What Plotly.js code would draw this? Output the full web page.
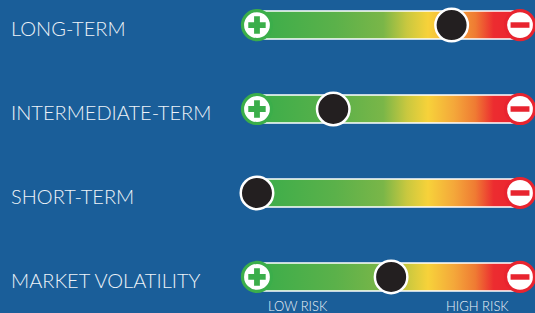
<!DOCTYPE html>
<html>
<head>
<meta charset="utf-8">
<script src="https://cdn.plot.ly/plotly-3.0.1.min.js"></script>
<style>
html,body{margin:0;padding:0;background:#1a5e99;}
#chart{width:535px;height:313px;}
</style>
</head>
<body>
<div id="chart"></div>
<script>
// Data
const categories = ["LONG-TERM", "INTERMEDIATE-TERM", "SHORT-TERM", "MARKET VOLATILITY"];
const riskValues = [74, 29, 0, 51];          // position of the indicator on a 0 (low) – 100 (high) scale
const scaleMin = 0;
const scaleMax = 100;
const scaleLabels = ["LOW RISK", "HIGH RISK"];
const scaleLabelPos = [15.6, 84];

const BG = "#1a5e99";
const TEXT = "#eef3f8";
const GREEN = "#3bae4a";
const RED = "#e8242f";
const gradient = [
  [0.00, "#3aad4a"],
  [0.30, "#5bb14a"],
  [0.48, "#7ab648"],
  [0.57, "#c9c83f"],
  [0.65, "#f7d23a"],
  [0.75, "#f4a73a"],
  [0.83, "#ef7b33"],
  [0.90, "#ec2c30"],
  [1.00, "#ec2330"]
];
const half = 0.167;

const traces = [];
const rows = categories.map((c, i) => i);

// gradient bars
rows.forEach(i => {
  traces.push({
    type: "scatter",
    mode: "lines",
    x: [scaleMin, scaleMax, scaleMax, scaleMin, scaleMin],
    y: [i - half, i - half, i + half, i + half, i - half],
    fill: "toself",
    fillgradient: { type: "horizontal", colorscale: gradient },
    line: { color: "#ffffff", width: 1.5 },
    hoverinfo: "skip",
    showlegend: false
  });
});

// plus circles
traces.push({
  type: "scatter", mode: "markers",
  x: rows.map(() => scaleMin), y: rows,
  marker: { symbol: "circle", size: 29, color: "#ffffff", line: { color: GREEN, width: 3.2 } },
  hoverinfo: "skip", showlegend: false
});
traces.push({
  type: "scatter", mode: "markers",
  x: rows.map(() => scaleMin), y: rows,
  marker: { symbol: "cross", size: 14.5, color: GREEN, line: { width: 0 } },
  hoverinfo: "skip", showlegend: false
});
// minus circles
traces.push({
  type: "scatter", mode: "markers",
  x: rows.map(() => scaleMax), y: rows,
  marker: { symbol: "circle", size: 29, color: "#ffffff", line: { color: RED, width: 3.2 } },
  hoverinfo: "skip", showlegend: false
});
traces.push({
  type: "scatter", mode: "markers",
  x: rows.map(() => scaleMax), y: rows,
  marker: { symbol: "line-ew", size: 13.5, color: RED, line: { color: RED, width: 5.5 } },
  hoverinfo: "skip", showlegend: false
});
// indicator dots
traces.push({
  type: "scatter", mode: "markers",
  x: riskValues, y: rows,
  marker: { symbol: "circle", size: 32.5, color: "#231f20", line: { color: "#ffffff", width: 2.5 } },
  hovertext: categories, hoverinfo: "text+x", showlegend: false
});

const annotations = categories.map((c, i) => ({
  xref: "paper", yref: "y", x: 0, y: i, xanchor: "left", yanchor: "middle",
  xshift: 9, yshift: -3,
  text: c, showarrow: false,
  font: { family: "Lato, 'Open Sans', sans-serif", size: 20, color: TEXT, weight: 300 }
}));
scaleLabels.forEach((t, k) => {
  annotations.push({
    xref: "x", yref: "y", x: scaleLabelPos[k], y: categories.length - 1,
    xanchor: "center", yanchor: "middle", yshift: -29.5,
    text: t, showarrow: false,
    font: { family: "Lato, 'Open Sans', sans-serif", size: 13, color: TEXT, weight: 300 }
  });
});

const layout = {
  width: 535, height: 313,
  margin: { l: 0, r: 0, t: 0, b: 0 },
  paper_bgcolor: BG, plot_bgcolor: BG,
  xaxis: { range: [-97.7, 105.7], visible: false, fixedrange: true },
  yaxis: { range: [3.429, -0.298], autorange: false, visible: false, fixedrange: true },
  annotations: annotations,
  showlegend: false
};

Plotly.newPlot("chart", traces, layout, { displayModeBar: false, staticPlot: true });
</script>
</body>
</html>
